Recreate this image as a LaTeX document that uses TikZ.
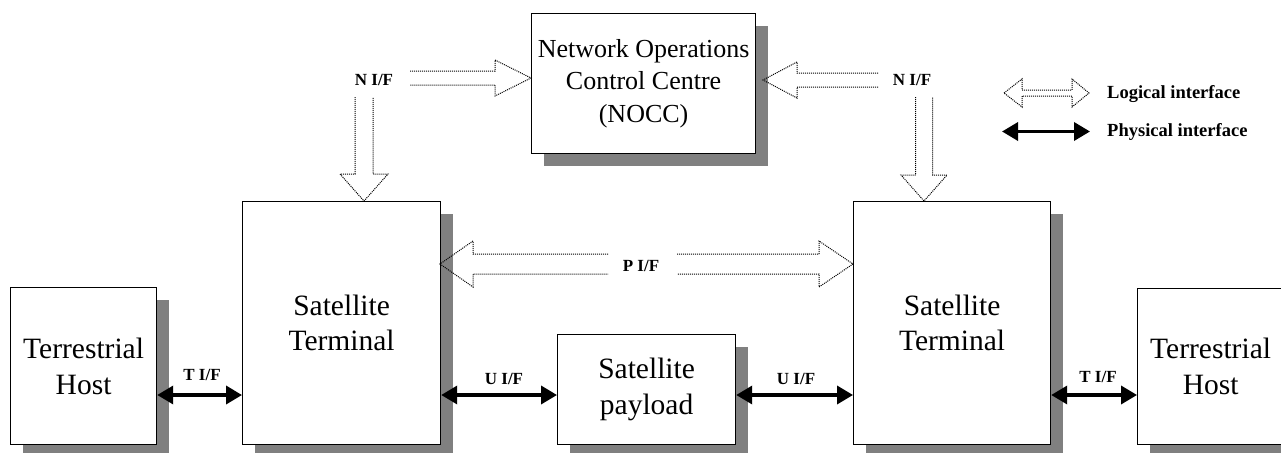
\documentclass[tikz,border=0pt]{standalone}
\usepackage{fontspec}
\setmainfont{Liberation Serif}
\usetikzlibrary{shadows,arrows.meta}
\definecolor{shadowgray}{HTML}{808080}
\begin{document}
\begin{tikzpicture}[x=1pt,y=-1pt,
  box/.style={draw,line width=1.2pt,fill=white,inner sep=0pt,anchor=north west,align=center,
    drop shadow={shadow xshift=12pt,shadow yshift=-12pt,fill=shadowgray,opacity=1}},
  bigtext/.style={font=\fontsize{29.5}{36}\selectfont},
  stext/.style={font=\fontsize{29.5}{34.5}\selectfont},
  noctext/.style={font=\fontsize{26}{32.5}\selectfont},
  lab/.style={font=\bfseries\fontsize{17}{20}\selectfont,inner sep=0pt},
  leglab/.style={font=\bfseries\fontsize{18.5}{22}\selectfont,inner sep=0pt,anchor=west},
  phys/.style={line width=3.5pt,{Triangle[length=16pt,width=18pt]}-{Triangle[length=16pt,width=18pt]}},
  logical/.style={line width=1pt,dash pattern=on 1pt off 1pt,line join=miter}]
\clip (0,0) rectangle (1281,452);
% boxes
\node[box,bigtext,minimum width=146pt,minimum height=157pt] (th1) at (10,287) {Terrestrial\\Host};
\node[box,stext,minimum width=198pt,minimum height=243pt] (st1) at (242,201) {Satellite\\Terminal};
\node[box,noctext,minimum width=224pt,minimum height=140pt] (nocc) at (531,13) {Network Operations\\Control Centre\\(NOCC)};
\node[box,bigtext,minimum width=178pt,minimum height=110pt] (pay) at (557,334) {Satellite\\payload};
\node[box,stext,minimum width=197pt,minimum height=243pt] (st2) at (853,201) {Satellite\\Terminal};
\node[box,bigtext,minimum width=146pt,minimum height=156pt] (th2) at (1137,288) {Terrestrial\\Host};
% logical interfaces (block arrows)
\draw[logical] (410,71) -- (495,71) -- (495,60) -- (531,78) -- (495,96) -- (495,85) -- (410,85);
\draw[logical] (355,97) -- (355,174) -- (340,174) -- (364,201) -- (388,174) -- (373,174) -- (373,97);
\draw[logical] (878,73) -- (797,73) -- (797,62) -- (763,80) -- (797,98) -- (797,87) -- (878,87);
\draw[logical] (915.5,97) -- (915.5,175) -- (901,175) -- (924,201) -- (947,175) -- (932.5,175) -- (932.5,97);
\draw[logical] (608,254) -- (473,254) -- (473,241) -- (440,264) -- (473,287) -- (473,274) -- (608,274);
\draw[logical] (677,254) -- (819,254) -- (819,241) -- (853,264) -- (819,287) -- (819,274) -- (677,274);
\node[lab] (nl) at (374,80) {N I/F};
\node[lab] (nr) at (912,80) {N I/F};
\node[lab] (pif) at (641,265.5) {P I/F};
% physical interfaces
\draw[phys] (th1.east |- 0,395) -- (st1.west |- 0,395);
\draw[phys] (st1.east |- 0,395) -- (pay.west |- 0,395);
\draw[phys] (pay.east |- 0,395) -- (st2.west |- 0,395);
\draw[phys] (st2.east |- 0,395) -- (th2.west |- 0,395);
\node[lab] (t1) at (202,374.5) {T I/F};
\node[lab] (u1) at (504,379) {U I/F};
\node[lab] (u2) at (796,379) {U I/F};
\node[lab] (t2) at (1098,377) {T I/F};
% legend
\draw[logical] (1004,93) -- (1022,79) -- (1022,90) -- (1072,90) -- (1072,79) -- (1089,93) -- (1072,107) -- (1072,96) -- (1022,96) -- (1022,107) -- cycle;
\coordinate (pl1) at (1002,131.5);
\coordinate (pl2) at (1090,131.5);
\draw[phys] (pl1) -- (pl2);
\node[leglab] (leg1) at (1107,94) {Logical interface};
\node[leglab] (leg2) at (1107,131.5) {Physical interface};
\end{tikzpicture}
\end{document}
